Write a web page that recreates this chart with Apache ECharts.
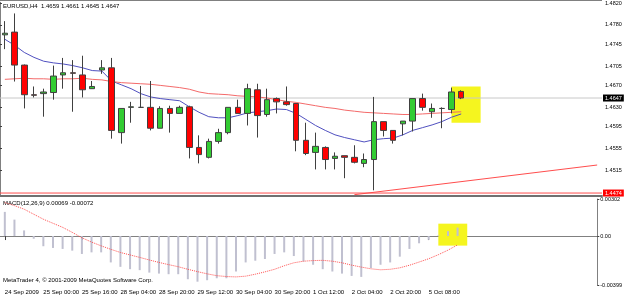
<!DOCTYPE html>
<html>
<head>
<meta charset="utf-8">
<script src="https://cdn.jsdelivr.net/npm/echarts@6/dist/echarts.min.js"></script>
<style>
html, body { margin: 0; padding: 0; background: #fff; }
#chart { width: 625px; height: 297px; }
</style>
</head>
<body>
<div id="chart"></div>
<script>
// time labels shown every 4 bars (H4)
const tickLabels = ['24 Sep 2009', '25 Sep 00:00', '25 Sep 16:00', '28 Sep 04:00', '28 Sep 20:00', '29 Sep 12:00',
    '30 Sep 04:00', '30 Sep 20:00', '1 Oct 12:00', '2 Oct 04:00', '2 Oct 20:00', '5 Oct 08:00'];

// EURUSD H4 bars
const barOpen = [1.4762, 1.4767, 1.4707, 1.4653, 1.4655, 1.4657, 1.4689, 1.4693, 1.4689, 1.4664, 1.4698, 1.4702,
    1.4584, 1.4630, 1.4630, 1.4630, 1.4592, 1.4628, 1.4619, 1.4631, 1.4557, 1.4539, 1.4568, 1.4584,
    1.4630, 1.4619, 1.4662, 1.4617, 1.4646, 1.4640, 1.4637, 1.4570, 1.4548, 1.4557, 1.4537, 1.4542,
    1.4539, 1.4528, 1.4535, 1.4604, 1.4588, 1.4600, 1.4605, 1.4646, 1.4622, 1.4628, 1.4626, 1.4659];
const barHigh = [1.4787, 1.4801, 1.4708, 1.4668, 1.4664, 1.4706, 1.4720, 1.4716, 1.4724, 1.4678, 1.4716, 1.4720,
    1.4628, 1.4640, 1.4669, 1.4678, 1.4632, 1.4633, 1.4633, 1.4633, 1.4579, 1.4573, 1.4591, 1.4630,
    1.4644, 1.4673, 1.4673, 1.4664, 1.4648, 1.4668, 1.4637, 1.4602, 1.4584, 1.4559, 1.4548, 1.4542,
    1.4561, 1.4546, 1.4649, 1.4604, 1.4588, 1.4605, 1.4646, 1.4655, 1.4637, 1.4630, 1.4666, 1.4661];
const barLow = [1.4736, 1.4677, 1.4628, 1.4648, 1.4613, 1.4644, 1.4664, 1.4622, 1.4648, 1.4664, 1.4691, 1.4573,
    1.4564, 1.4602, 1.4629, 1.4588, 1.4592, 1.4584, 1.4619, 1.4537, 1.4528, 1.4537, 1.4564, 1.4581,
    1.4619, 1.4597, 1.4575, 1.4613, 1.4619, 1.4633, 1.4550, 1.4543, 1.4517, 1.4517, 1.4517, 1.4501,
    1.4528, 1.4521, 1.4479, 1.4577, 1.4564, 1.4579, 1.4586, 1.4624, 1.4611, 1.4592, 1.4619, 1.4645];
const barClose = [1.4765, 1.4707, 1.4653, 1.4652, 1.4658, 1.4687, 1.4693, 1.4692, 1.4662, 1.4668, 1.4702, 1.4588,
    1.4628, 1.4631, 1.4630, 1.4592, 1.4628, 1.4619, 1.4630, 1.4557, 1.4544, 1.4568, 1.4584, 1.4630,
    1.4619, 1.4664, 1.4615, 1.4644, 1.4640, 1.4635, 1.4570, 1.4546, 1.4559, 1.4535, 1.4541, 1.4539,
    1.4530, 1.4535, 1.4604, 1.4588, 1.4570, 1.4605, 1.4646, 1.4630, 1.4628, 1.4628, 1.4658, 1.4647];

// moving averages
const maFast = [1.4754, 1.4743, 1.4730, 1.4721, 1.4714, 1.4711, 1.4709, 1.4706, 1.4702, 1.4697, 1.4696, 1.4678,
    1.4671, 1.4664, 1.4655, 1.4649, 1.4646, 1.4644, 1.4642, 1.4631, 1.4621, 1.4613, 1.4611, 1.4611,
    1.4615, 1.4620, 1.4622, 1.4624, 1.4627, 1.4626, 1.4619, 1.4608, 1.4597, 1.4588, 1.4580, 1.4575,
    1.4571, 1.4567, 1.4571, 1.4573, 1.4574, 1.4580, 1.4588, 1.4593, 1.4598, 1.4604, 1.4612, 1.4618];
const maSlow = [1.4681, 1.4682, 1.4683, 1.4682, 1.4682, 1.4681, 1.4682, 1.4682, 1.4683, 1.4681, 1.4680, 1.4677,
    1.4675, 1.4674, 1.4673, 1.4672, 1.4670, 1.4668, 1.4666, 1.4663, 1.4658, 1.4655, 1.4654, 1.4653,
    1.4651, 1.4650, 1.4649, 1.4647, 1.4644, 1.4641, 1.4639, 1.4636, 1.4633, 1.4630, 1.4628, 1.4625,
    1.4623, 1.4621, 1.4620, 1.4619, 1.4618, 1.4617, 1.4617, 1.4618, 1.4619, 1.4620, 1.4621, 1.4622];

// trend line (bar index, price)
const trendLine = [[36, 1.4471], [61, 1.4525]];

// MACD(12,26,9)
const macdMain = [0.00197, 0.00134, 0.00046, -0.00022, -0.00083, -0.00097, -0.00105, -0.00119, -0.00146, -0.00133,
    -0.00133, -0.00215, -0.00251, -0.00270, -0.00278, -0.00298, -0.00306, -0.00311, -0.00311, -0.00352,
    -0.00372, -0.00360, -0.00344, -0.00344, -0.00289, -0.00215, -0.00201, -0.00187, -0.00146, -0.00133,
    -0.00163, -0.00207, -0.00234, -0.00270, -0.00289, -0.00306, -0.00325, -0.00333, -0.00261, -0.00234,
    -0.00215, -0.00168, -0.00105, -0.00059, -0.00031, 0.00005, 0.00040, 0.00069];
const macdSignal = [0.00273, 0.00248, 0.00219, 0.00178, 0.00137, 0.00104, 0.00071, 0.00030, -0.00014, -0.00049,
    -0.00080, -0.00108, -0.00134, -0.00154, -0.00174, -0.00195, -0.00215, -0.00233, -0.00250, -0.00271,
    -0.00290, -0.00308, -0.00323, -0.00330, -0.00333, -0.00327, -0.00311, -0.00292, -0.00271, -0.00242,
    -0.00218, -0.00205, -0.00200, -0.00198, -0.00205, -0.00218, -0.00237, -0.00253, -0.00267, -0.00275,
    -0.00271, -0.00259, -0.00238, -0.00212, -0.00185, -0.00152, -0.00115, -0.00072];

const priceTicks = [1.4820, 1.4780, 1.4745, 1.4705, 1.4670, 1.4630, 1.4595, 1.4555, 1.4515];
const macdTicks = [0.00302, 0, -0.00399];
const bidPrice = 1.4647;
const lowLevel = 1.4474;

const font = 'Liberation Sans, Arial, sans-serif';
const slotCount = 62; // chart keeps empty space right of the last bar
const categories = [];
for (let i = 0; i < slotCount; i++) categories.push(i);

const candleData = barOpen.map((o, i) => [o, barClose[i], barLow[i], barHigh[i]]);
const showTick = (idx) => idx % 4 === 0 && idx / 4 < tickLabels.length;

const chart = echarts.init(document.getElementById('chart'), null, { renderer: 'canvas' });

// full-width horizontal price line with a boxed label on the axis
const levelLine = (name, price, lineColor, boxColor) => ({
    name, type: 'line', xAxisIndex: 2, yAxisIndex: 0, z: 1, silent: true,
    data: [[0, price], [1, price]], symbol: 'none',
    lineStyle: { color: lineColor, width: 1 },
    endLabel: {
        show: true, distance: 1, formatter: price.toFixed(4),
        backgroundColor: boxColor, color: '#fff', fontSize: 5.5, padding: [1, 2, 0, 2], fontFamily: font,
    },
});

const option = {
    animation: false,
    backgroundColor: '#ffffff',
    textStyle: { fontFamily: font },
    grid: [
        { left: -1.5, right: 23, top: 1, height: 195 },
        { left: -1.5, right: 23, top: 199, height: 86 },
    ],
    xAxis: [
        {
            type: 'category', gridIndex: 0, data: categories,
            axisLine: { show: true, lineStyle: { color: '#707070', width: 2 } },
            axisTick: { show: false }, axisLabel: { show: false },
        },
        {
            type: 'category', gridIndex: 1, data: categories,
            axisLine: { show: true, lineStyle: { color: '#808080', width: 1 } },
            axisTick: { show: true, alignWithLabel: true, interval: showTick, length: 4, lineStyle: { color: '#404040' } },
            axisLabel: {
                interval: showTick, align: 'left', margin: 4, fontSize: 6, color: '#000', fontFamily: font,
                formatter: (v, idx) => tickLabels[idx / 4],
            },
        },
        { type: 'value', gridIndex: 0, min: 0, max: 1, show: false },
    ],
    yAxis: [
        {
            type: 'value', gridIndex: 0, position: 'right', min: 1.44686, max: 1.48213,
            splitLine: { show: false },
            axisLine: { show: true, lineStyle: { color: '#808080' } },
            axisTick: { show: true, length: 2, customValues: priceTicks, lineStyle: { color: '#404040' } },
            axisLabel: {
                customValues: priceTicks, margin: 3, fontSize: 5.5, color: '#000', fontFamily: font,
                formatter: v => v.toFixed(4),
            },
        },
        {
            type: 'value', gridIndex: 1, position: 'right', min: -0.00399, max: 0.00302,
            splitLine: { show: false },
            axisLine: { show: true, lineStyle: { color: '#808080' } },
            axisTick: { show: true, length: 2, customValues: macdTicks, lineStyle: { color: '#404040' } },
            axisLabel: {
                customValues: macdTicks, margin: 3, fontSize: 5.5, color: '#000', fontFamily: font,
                formatter: v => (v === 0 ? '0.00' : v.toFixed(5)),
            },
        },
    ],
    graphic: [
        { type: 'line', shape: { x1: 0, y1: 0.5, x2: 602, y2: 0.5 }, style: { stroke: '#808080', lineWidth: 1 } },
        { type: 'text', left: 3, top: 3, style: { text: 'EURUSD,H4  1.4659 1.4661 1.4645 1.4647', font: '6px ' + font, fill: '#000' } },
        { type: 'text', left: 3, top: 200, style: { text: 'MACD(12,26,9) 0.00069 -0.00072', font: '6px ' + font, fill: '#000' } },
        { type: 'text', left: 3, top: 277, style: { text: 'MetaTrader 4, © 2001-2009 MetaQuotes Software Corp.', font: '6px ' + font, fill: '#000' } },
    ],
    series: [
        {
            // yellow highlight box, price pane
            type: 'line', xAxisIndex: 0, yAxisIndex: 0, data: [], z: 0, silent: true,
            markArea: {
                silent: true,
                itemStyle: { color: '#f5f51f', opacity: 1 },
                data: [[{ coord: [46, 1.46681] }, { coord: [49, 1.46019] }]],
            },
        },
        {
            // yellow highlight box, MACD pane
            type: 'line', xAxisIndex: 1, yAxisIndex: 1, data: [], z: 0, silent: true,
            markArea: {
                silent: true,
                itemStyle: { color: '#f5f51f', opacity: 1 },
                data: [[{ coord: [45, 0.00101] }, { coord: [48, -0.00078] }]],
            },
        },
        levelLine('Bid', bidPrice, '#c8c8c8', '#000000'),
        levelLine('Low', lowLevel, '#ff4d4d', '#ff0000'),
        {
            name: 'EURUSD', type: 'candlestick', xAxisIndex: 0, yAxisIndex: 0, data: candleData,
            barWidth: 6, z: 3,
            itemStyle: {
                color: '#33cc33', color0: '#ff0000',
                borderColor: '#404040', borderColor0: '#404040', borderWidth: 1,
            },
        },
        {
            name: 'MA fast', type: 'line', xAxisIndex: 0, yAxisIndex: 0, data: maFast,
            symbol: 'none', z: 2, lineStyle: { color: '#5050c0', width: 1 },
        },
        {
            name: 'MA slow', type: 'line', xAxisIndex: 0, yAxisIndex: 0, data: maSlow,
            symbol: 'none', z: 2, lineStyle: { color: '#f46a6a', width: 1 },
        },
        {
            name: 'Trend', type: 'line', xAxisIndex: 0, yAxisIndex: 0, data: trendLine,
            symbol: 'none', z: 2, lineStyle: { color: '#ff4d4d', width: 1 },
        },
        {
            name: 'MACD', type: 'bar', xAxisIndex: 1, yAxisIndex: 1, data: macdMain,
            barWidth: 2, z: 2, itemStyle: { color: '#c0c0d0' },
        },
        {
            name: 'Signal', type: 'line', xAxisIndex: 1, yAxisIndex: 1, data: macdSignal,
            symbol: 'none', z: 3, lineStyle: { color: '#ff5050', width: 1, type: 'dotted' },
        },
    ],
};

chart.setOption(option);
window.addEventListener('resize', () => chart.resize());
</script>
</body>
</html>
